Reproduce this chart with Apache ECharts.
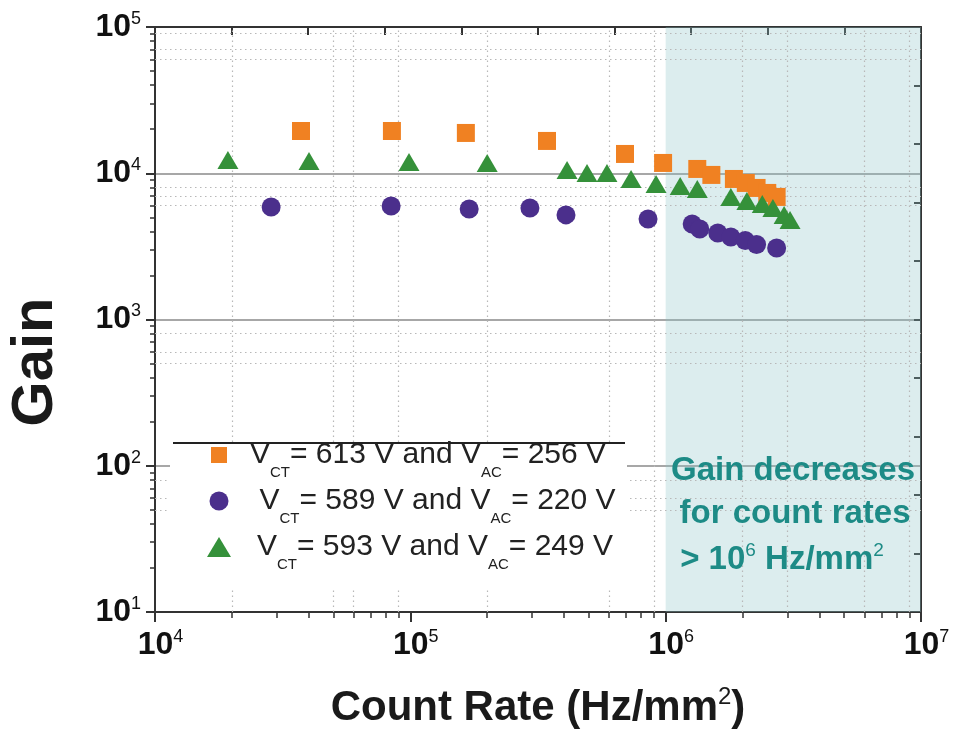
<!DOCTYPE html>
<html><head><meta charset="utf-8">
<script src="https://cdn.jsdelivr.net/npm/echarts@6/dist/echarts.min.js"></script>
<style>html,body{margin:0;padding:0;background:#fff}#c{width:953px;height:731px}</style>
</head><body><div id="c"></div>
<script>
const FONT = '"Liberation Sans", Arial, Helvetica, sans-serif';

// ---- data ----
const seriesNames = ['613/256', '589/220', '593/249'];
const vctValues = ['613', '589', '593'];
const vacValues = ['256', '220', '249'];

const orangeX = [37300, 84700, 165000, 343000, 693000, 977000, 1330000, 1510000, 1850000, 2060000, 2270000, 2500000, 2720000];
const orangeY = [19450, 19450, 18860, 16630, 13550, 11760, 10700, 9740, 9140, 8585, 7935, 7335, 6890];

const purpleX = [28500, 84100, 170000, 294000, 407000, 853000, 1270000, 1360000, 1600000, 1800000, 2050000, 2270000, 2720000];
const purpleY = [5885, 5977, 5700, 5790, 5190, 4870, 4503, 4163, 3908, 3670, 3473, 3261, 3086];

const greenX = [19300, 40100, 98800, 200000, 411000, 492000, 589000, 732000, 917000, 1140000, 1330000, 1800000, 2080000, 2390000, 2630000, 2910000, 3070000];
const greenY = [12330, 12140, 11950, 11760, 10530, 10050, 10050, 9140, 8450, 8190, 7810, 6890, 6465, 6170, 5790, 5190, 4795];

// faint dotted grid lines
const xDotGrid = [20000, 50000, 60000, 90000, 200000, 600000, 900000, 2000000, 3000000, 6000000, 9000000];
const yDotGrid = [50, 60, 80, 500, 600, 800, 6000, 7000, 8000, 60000, 70000, 90000];

// shaded region
const shadeFrom = 1e6, shadeTo = 1e7;

const annotationLines = ['Gain decreases', 'for count rates'];

function zip(xs, ys) { return xs.map((x, i) => [x, ys[i]]); }
function expOf(v) { return Math.round(Math.log10(v)); }

const frame = { show: true, lineStyle: { color: '#333', width: 2 } };

const chart = echarts.init(document.getElementById('c'));

function legendFor(i, icon, w, h, centerX, centerY, pad) {
  return {
    data: [seriesNames[i]],
    icon: icon,
    itemWidth: w, itemHeight: h,
    left: centerX - w / 2,
    top: centerY - 25,
    padding: 0,
    z: 12,
    selectedMode: false,
    formatter: () => '{v0|V}{sub|CT}{b|= ' + vctValues[i] + ' V and V}{sub|AC}{b|= ' + vacValues[i] + ' V}',
    textStyle: {
      rich: {
        v0: { fontSize: 30, fontFamily: FONT, color: '#222', lineHeight: 50, padding: [0, 0, 0, pad] },
        b: { fontSize: 30, fontFamily: FONT, color: '#222', lineHeight: 50 },
        sub: { fontSize: 15, fontFamily: FONT, color: '#222', lineHeight: 15, verticalAlign: 'bottom' }
      }
    }
  };
}

const option = {
  animation: false,
  backgroundColor: '#fff',
  grid: { left: 155, right: 32, top: 27, bottom: 119 },
  xAxis: [
    {
      type: 'log', logBase: 10, min: 1e4, max: 1e7, position: 'bottom',
      axisLine: frame,
      axisTick: { show: true, inside: false, length: 10, lineStyle: { color: '#333', width: 2 } },
      minorTick: { show: true, splitNumber: 9, length: 6, lineStyle: { color: '#333', width: 1.5 } },
      splitLine: { show: false },
      axisLabel: {
        margin: 16,
        formatter: v => '{b|10}{s|' + expOf(v) + '}',
        rich: {
          b: { fontSize: 32, fontWeight: 'bold', fontFamily: FONT, color: '#111', lineHeight: 34, padding: [0, 0, 0, 11] },
          s: { fontSize: 18, fontFamily: FONT, color: '#111', lineHeight: 18, verticalAlign: 'top' }
        }
      }
    },
    {
      type: 'value', min: 4, max: 7, interval: 0.3, position: 'top',
      axisLine: frame,
      axisTick: { show: true, inside: true, length: 8, lineStyle: { color: '#333', width: 2 } },
      axisLabel: { show: false }, splitLine: { show: false }
    }
  ],
  yAxis: [
    {
      type: 'log', logBase: 10, min: 10, max: 1e5, position: 'left',
      axisLine: frame,
      axisTick: { show: true, inside: false, length: 9, lineStyle: { color: '#333', width: 2 } },
      minorTick: { show: true, splitNumber: 9, length: 5, lineStyle: { color: '#333', width: 1.5 } },
      splitLine: { show: true, lineStyle: { color: '#8a8a8a', width: 1.5 } },
      axisLabel: {
        margin: 14,
        formatter: v => '{b|10}{s|' + expOf(v) + '}',
        rich: {
          b: { fontSize: 32, fontWeight: 'bold', fontFamily: FONT, color: '#111', lineHeight: 34 },
          s: { fontSize: 18, fontFamily: FONT, color: '#111', lineHeight: 18, verticalAlign: 'top' }
        }
      }
    },
    {
      type: 'value', min: 1, max: 5, interval: 0.4, position: 'right',
      axisLine: frame,
      axisTick: { show: true, inside: true, length: 7, lineStyle: { color: '#333', width: 2 } },
      axisLabel: { show: false }, splitLine: { show: false }
    }
  ],
  legend: [
    legendFor(0, 'rect', 16, 16, 219, 465, 18),
    legendFor(1, 'circle', 19, 19, 219, 511, 26),
    legendFor(2, 'triangle', 24, 20, 219, 557, 21)
  ],
  series: [
    {
      type: 'scatter', name: '__grid', xAxisIndex: 0, yAxisIndex: 0, data: [], silent: true,
      markArea: {
        silent: true, z: 1,
        itemStyle: { color: 'rgba(138,195,198,0.3)' },
        data: [[{ xAxis: shadeFrom, yAxis: 10 }, { xAxis: shadeTo, yAxis: 1e5 }]]
      },
      markLine: {
        silent: true, z: 1, symbol: 'none', label: { show: false },
        lineStyle: { color: '#b8b8b8', width: 1.2, type: [1.5, 3.5] },
        data: xDotGrid.map(v => ({ xAxis: v })).concat(yDotGrid.map(v => ({ yAxis: v })))
      }
    },
    {
      type: 'scatter', name: seriesNames[0], xAxisIndex: 0, yAxisIndex: 0,
      symbol: 'rect', symbolSize: 18, itemStyle: { color: '#F08122', opacity: 1 },
      data: zip(orangeX, orangeY)
    },
    {
      type: 'scatter', name: seriesNames[1], xAxisIndex: 0, yAxisIndex: 0,
      symbol: 'circle', symbolSize: 19, itemStyle: { color: '#4B2F8C', opacity: 1 },
      data: zip(purpleX, purpleY)
    },
    {
      type: 'scatter', name: seriesNames[2], xAxisIndex: 0, yAxisIndex: 0,
      symbol: 'triangle', symbolSize: [21, 18], itemStyle: { color: '#35913A', opacity: 1 },
      data: zip(greenX, greenY)
    }
  ],
  graphic: [
    { type: 'rect', z: 10, silent: true, shape: { x: 170, y: 444, width: 457, height: 145 }, style: { fill: '#fff' } },
    { type: 'line', z: 10, silent: true, shape: { x1: 173, y1: 443, x2: 625, y2: 443 }, style: { stroke: '#222', lineWidth: 2 } },
    { type: 'text', z: 10, x: 36, y: 362, rotation: Math.PI / 2,
      style: { text: 'Gain', font: 'bold 58px ' + FONT, fill: '#1a1a1a', align: 'center', verticalAlign: 'middle' } },
    { type: 'text', z: 10, x: 538, y: 708,
      style: { text: '{t|Count Rate (Hz/mm}{s|2}{t|)}', align: 'center', verticalAlign: 'middle',
        rich: {
          t: { fontSize: 42, fontWeight: 'bold', fontFamily: FONT, fill: '#1a1a1a', lineHeight: 46 },
          s: { fontSize: 24, fontFamily: FONT, fill: '#1a1a1a', lineHeight: 24, verticalAlign: 'top' }
        } } },
    { type: 'text', z: 10, x: 793, y: 471,
      style: { text: annotationLines[0], font: 'bold 33px ' + FONT, fill: '#1D8B86', align: 'center', verticalAlign: 'middle' } },
    { type: 'text', z: 10, x: 795, y: 514,
      style: { text: annotationLines[1], font: 'bold 33px ' + FONT, fill: '#1D8B86', align: 'center', verticalAlign: 'middle' } },
    { type: 'text', z: 10, x: 782, y: 560,
      style: { text: '{t|> 10}{s|6}{t| Hz/mm}{s|2}', align: 'center', verticalAlign: 'middle',
        rich: {
          t: { fontSize: 33, fontWeight: 'bold', fontFamily: FONT, fill: '#1D8B86', lineHeight: 38 },
          s: { fontSize: 19, fontFamily: FONT, fill: '#1D8B86', lineHeight: 19, verticalAlign: 'top' }
        } } }
  ]
};
chart.setOption(option);
</script></body></html>
